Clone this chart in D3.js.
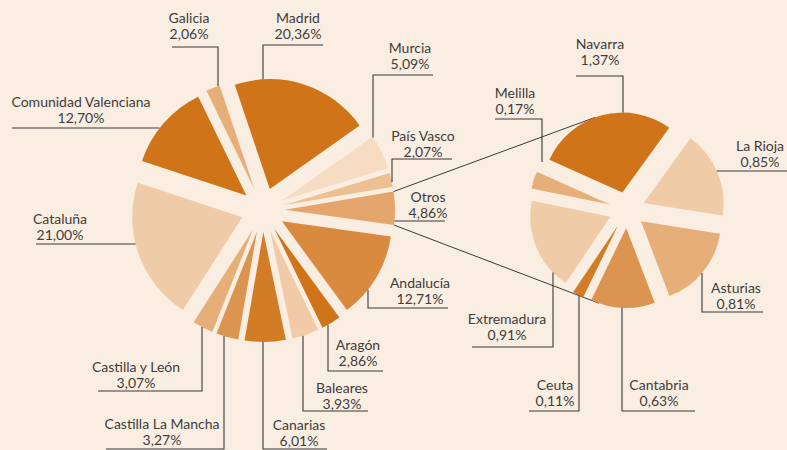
<!DOCTYPE html>
<html>
<head>
<meta charset="utf-8">
<script src="https://cdn.jsdelivr.net/npm/d3@7"></script>
<style>
  html, body { margin: 0; padding: 0; background: #faede1; }
  svg { display: block; }
  text { font-family: Lato, "Open Sans", sans-serif; font-size: 14px; fill: #3d3d3d; }
</style>
</head>
<body>
<div id="chart"></div>
<script>
// big pie, clockwise from the Otros/Andalucía gap
const regions = ["Andalucía", "Aragón", "Baleares", "Canarias", "Castilla La Mancha", "Castilla y León",
    "Cataluña", "Comunidad Valenciana", "Galicia", "Madrid", "Murcia", "País Vasco", "Otros"];
const shares = [12.71, 2.86, 3.93, 6.01, 3.27, 3.07, 21.00, 12.70, 2.06, 20.36, 5.09, 2.07, 4.86];

// "Otros" broken down in the small pie
const otherRegions = ["Asturias", "Cantabria", "Ceuta", "Extremadura", "Melilla", "Navarra", "La Rioja"];
const otherShares = [0.81, 0.63, 0.11, 0.91, 0.17, 1.37, 0.85];

const colors = {
    "Andalucía": "#d98a3f", "Aragón": "#cf7418", "Baleares": "#f1cba8", "Canarias": "#d27c25",
    "Castilla La Mancha": "#dc9550", "Castilla y León": "#e6af7a", "Cataluña": "#f0cba8",
    "Comunidad Valenciana": "#cf7418", "Galicia": "#e6af7a", "Madrid": "#cf7418", "Murcia": "#f6dcc2",
    "País Vasco": "#edc094", "Otros": "#e4a66c",
    "Asturias": "#e6af7a", "Cantabria": "#dc9550", "Ceuta": "#d27c25", "Extremadura": "#f0cba8",
    "Melilla": "#e6af7a", "Navarra": "#cf7418", "La Rioja": "#f0cba8"
};

// label placement: text centre, first baseline, underline y, far end of underline,
// x of the vertical leader (null = underline runs straight into the slice)
const labelPos = {
    "Galicia": { tx: 189, ty: 23, uy: 47, end: 172, vx: 218 },
    "Madrid": { tx: 298, ty: 23, uy: 45, end: 323, vx: 263 },
    "Murcia": { tx: 410, ty: 53, uy: 75, end: 433, vx: 373 },
    "País Vasco": { tx: 423, ty: 141, uy: 159, end: 452, vx: 392 },
    "Otros": { tx: 428, ty: 202, uy: 221, end: 445, vx: null },
    "Andalucía": { tx: 420, ty: 288, uy: 308, end: 448, vx: 368 },
    "Aragón": { tx: 358, ty: 350, uy: 371, end: 383, vx: 328 },
    "Baleares": { tx: 342, ty: 393, uy: 411, end: 368, vx: 303 },
    "Canarias": { tx: 299, ty: 430, uy: 449, end: 327, vx: 263 },
    "Castilla La Mancha": { tx: 162, ty: 429, uy: 449, end: 106, vx: 224 },
    "Castilla y León": { tx: 136, ty: 372, uy: 391, end: 98, vx: 202 },
    "Cataluña": { tx: 60, ty: 224, uy: 244, end: 36, vx: null },
    "Comunidad Valenciana": { tx: 81, ty: 107, uy: 128, end: 12, vx: null },
    "Navarra": { tx: 600, ty: 49, uy: 76, end: 576, vx: 623 },
    "Melilla": { tx: 515, ty: 98, uy: 119, end: 495, vx: 542 },
    "La Rioja": { tx: 760, ty: 151, uy: 171, end: 787, vx: null },
    "Asturias": { tx: 736, ty: 293, uy: 312, end: 763, vx: 702 },
    "Cantabria": { tx: 659, ty: 390, uy: 411, end: 695, vx: 622 },
    "Ceuta": { tx: 555, ty: 390, uy: 411, end: 529, vx: 579 },
    "Extremadura": { tx: 507, ty: 324, uy: 347, end: 472, vx: 553 }
};

let width = 787, height = 450;
let lineColor = "#3a3a3a";
let fmt = v => d3.format(".2f")(v).replace(".", ",") + "%";
let rad = deg => deg * Math.PI / 180;

let svg = d3.select("#chart")
    .append("svg")
    .attr("width", width)
    .attr("height", height);

// lay out one exploded pie, returns slice geometry
function layoutPie(names, values, cx, cy, r, explode, startDeg) {
    let pie = d3.pie().sort(null)
        .startAngle(rad(startDeg))
        .endAngle(rad(startDeg) + 2 * Math.PI);
    return pie(values).map((d, i) => {
        let mid = (d.startAngle + d.endAngle) / 2;
        return Object.assign(d, {
            name: names[i],
            r: r,
            cx: cx + explode * Math.sin(mid),
            cy: cy - explode * Math.cos(mid)
        });
    });
}

let bigPie = layoutPie(regions, shares, 263, 210, 110, 22, 98);
let smallPie = layoutPie(otherRegions, otherShares, 627, 210, 80, 18, 99);

function pointAt(s, a) {
    return [s.cx + s.r * Math.sin(a), s.cy - s.r * Math.cos(a)];
}

// connectors from Otros slice to the small pie
let otros = bigPie.find(d => d.name === "Otros");
function smallPieSliceAt(a) {
    let t = ((a - rad(99)) % (2 * Math.PI) + 2 * Math.PI) % (2 * Math.PI) + rad(99);
    return smallPie.find(d => t >= d.startAngle && t < d.endAngle);
}
[[otros.startAngle, rad(-20)], [otros.endAngle, rad(200)]].forEach(([a1, a2]) => {
    let p1 = pointAt(otros, a1);
    let p2 = pointAt(smallPieSliceAt(a2), a2);
    svg.append("line")
        .attr("x1", p1[0]).attr("y1", p1[1])
        .attr("x2", p2[0]).attr("y2", p2[1])
        .attr("stroke", lineColor)
        .attr("stroke-width", 1);
});

let arc = d3.arc().innerRadius(0);

[bigPie, smallPie].forEach(slices => {
    svg.append("g")
        .selectAll("path")
        .data(slices)
        .enter()
        .append("path")
        .attr("transform", d => `translate(${d.cx},${d.cy})`)
        .attr("d", d => arc.outerRadius(d.r)(d))
        .attr("fill", d => colors[d.name]);
});

// leaders + labels
let labels = svg.append("g");
bigPie.concat(smallPie).forEach(s => {
    let p = labelPos[s.name];
    let path;
    if (p.vx !== null) {
        let dx = p.vx - s.cx;
        let h = Math.sqrt(Math.max(0, s.r * s.r - dx * dx));
        let ya = p.uy > s.cy ? s.cy + h : s.cy - h;
        path = `M${p.end},${p.uy}H${p.vx}V${ya}`;
    } else {
        let dy = p.uy - s.cy;
        let w = Math.sqrt(Math.max(0, s.r * s.r - dy * dy));
        let xa = p.tx > s.cx ? s.cx + w : s.cx - w;
        path = `M${p.end},${p.uy}H${xa}`;
    }
    labels.append("path")
        .attr("d", path)
        .attr("fill", "none")
        .attr("stroke", lineColor)
        .attr("stroke-width", 1.1);

    let t = labels.append("text")
        .attr("text-anchor", "middle");
    t.append("tspan").attr("x", p.tx).attr("y", p.ty).text(s.name);
    t.append("tspan").attr("x", p.tx).attr("y", p.ty + 15.5).text(fmt(s.value));
});
</script>
</body>
</html>
